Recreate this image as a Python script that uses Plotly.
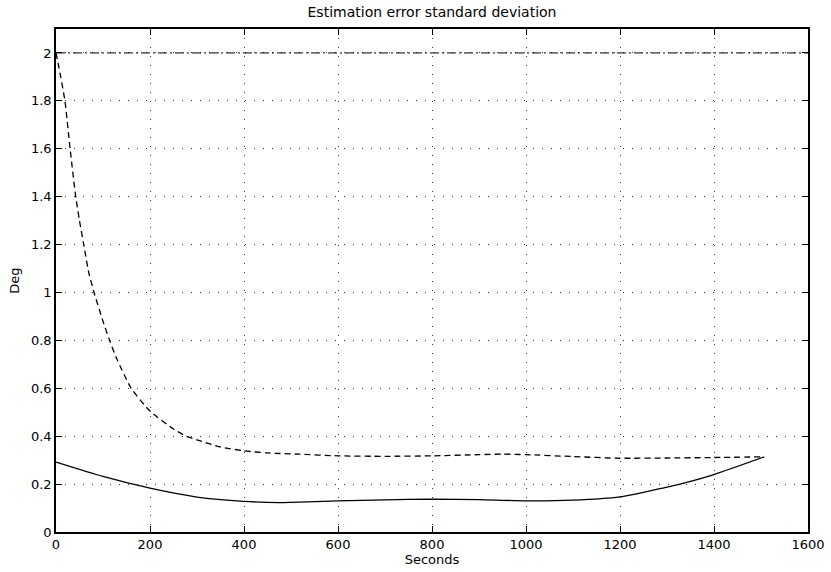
import plotly.graph_objects as go

# Time axis (seconds) and estimation-error standard deviations (deg)
t_upper = [0, 10, 19, 30, 42, 50, 59, 70, 81, 100, 114, 130, 160, 200, 250, 277, 300, 350, 400, 450, 517, 600, 700, 800, 900, 950, 1000, 1100, 1200, 1300, 1400, 1507]
sd_upper = [2.0, 1.9, 1.8, 1.6, 1.4, 1.3, 1.2, 1.08, 1.0, 0.88, 0.8, 0.72, 0.6, 0.505, 0.43, 0.40, 0.385, 0.355, 0.339, 0.33, 0.325, 0.318, 0.316, 0.318, 0.323, 0.325, 0.323, 0.315, 0.308, 0.309, 0.311, 0.314]

t_lower = [0, 100, 200, 300, 400, 475, 500, 600, 700, 800, 900, 1000, 1100, 1200, 1300, 1400, 1507]
sd_lower = [0.292, 0.232, 0.183, 0.146, 0.128, 0.123, 0.124, 0.130, 0.134, 0.1375, 0.135, 0.130, 0.133, 0.147, 0.187, 0.240, 0.314]

t_bound = [0, 1600]
sd_bound = [2.0, 2.0]

x_ticks = [0, 200, 400, 600, 800, 1000, 1200, 1400, 1600]
y_ticks = [0, 0.2, 0.4, 0.6, 0.8, 1.0, 1.2, 1.4, 1.6, 1.8, 2.0]
y_labels = ["0", "0.2", "0.4", "0.6", "0.8", "1", "1.2", "1.4", "1.6", "1.8", "2"]

FONT = "DejaVu Sans, Arial, sans-serif"

fig = go.Figure()
fig.add_trace(go.Scatter(x=t_bound, y=sd_bound, mode="lines",
                         line=dict(color="black", width=1, dash="9px,3px,2px,3px")))
fig.add_trace(go.Scatter(x=t_upper, y=sd_upper, mode="lines",
                         line=dict(color="black", width=1.3, dash="6px,4px", shape="spline", smoothing=0.6)))
fig.add_trace(go.Scatter(x=t_lower, y=sd_lower, mode="lines",
                         line=dict(color="black", width=1.3, shape="spline", smoothing=0.5)))

axis_common = dict(
    showline=True, linecolor="black", linewidth=1.5, mirror="ticks",
    ticks="inside", ticklen=6, tickcolor="black", tickwidth=1,
    showgrid=True, gridcolor="#333333", griddash="1px,8px", gridwidth=1,
    zeroline=False, automargin=False,
    tickfont=dict(family=FONT, size=13, color="black"),
)

fig.update_layout(
    width=831, height=572,
    margin=dict(l=56, r=23, t=29, b=40),
    paper_bgcolor="white", plot_bgcolor="white",
    showlegend=False,
    font=dict(family=FONT, color="black"),
    title=dict(text="Estimation error standard deviation", x=0.5, xref="paper",
               xanchor="center", y=1 - 12 / 572, yanchor="middle",
               font=dict(size=14, color="black")),
    xaxis=dict(range=[0, 1600], tickvals=x_ticks,
               title=dict(text="Seconds", font=dict(size=13), standoff=3),
               **axis_common),
    yaxis=dict(range=[0, 2.1], tickvals=y_ticks, ticktext=y_labels,
               title=dict(text="Deg", font=dict(size=13), standoff=8),
               **axis_common),
)

fig.write_html("out.html")
